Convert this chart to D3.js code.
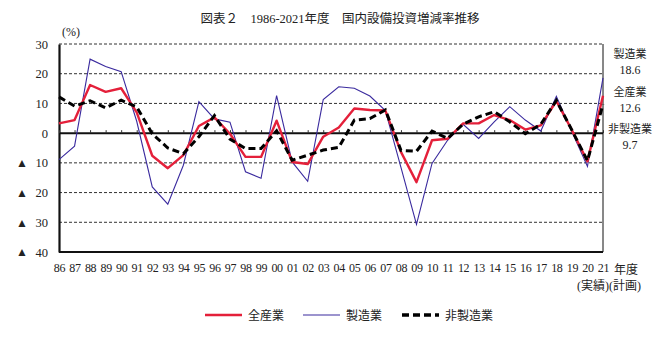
<!DOCTYPE html>
<html>
<head>
<meta charset="utf-8">
<script src="https://cdn.jsdelivr.net/npm/d3@7"></script>
<style>
  html, body { margin: 0; padding: 0; background: #fff; }
  svg text { font-family: "Liberation Serif", "Noto Sans CJK JP", serif; fill: #222; }
</style>
</head>
<body>
<svg id="chart" width="659" height="340"></svg>
<script>
// Fiscal years (two-digit labels)
const years = ["86","87","88","89","90","91","92","93","94","95","96","97","98","99",
  "00","01","02","03","04","05","06","07","08","09","10","11","12","13","14","15",
  "16","17","18","19","20","21"];

// Year-on-year change in capital investment (%)
const allIndustries = [3.3, 4.4, 16.2, 13.9, 15.1, 7.0, -7.6, -11.8, -7.4, 2.4, 5.3, -0.2,
  -8.0, -8.0, 4.2, -9.7, -10.4, -1.2, 1.9, 8.3, 7.8, 7.6, -6.3, -16.5, -2.4, -1.9,
  3.3, 3.3, 6.1, 4.4, 1.2, 2.6, 10.8, 1.0, -9.5, 12.6];
const manufacturing = [-8.9, -4.4, 24.9, 22.4, 20.7, 4.0, -18.1, -23.9, -10.8, 10.6, 4.8, 3.7,
  -13.0, -15.2, 12.6, -9.7, -16.2, 11.3, 15.6, 15.1, 12.5, 7.6, -11.5, -30.7, -10.2, -2.4,
  3.0, -1.8, 3.8, 8.9, 4.4, 0.7, 12.4, 0.5, -11.2, 18.6];
const nonManufacturing = [12.2, 9.1, 10.9, 8.5, 11.1, 8.8, -0.2, -5.0, -6.9, -1.2, 5.9, -2.0,
  -5.2, -5.2, 0.8, -9.1, -7.4, -5.7, -4.8, 4.4, 4.9, 7.8, -5.8, -6.1, 0.7, -1.8,
  3.0, 5.5, 7.2, 3.8, -0.2, 3.0, 11.0, 1.0, -9.3, 9.7];

const yTicks = [30, 20, 10, 0, -10, -20, -30, -40];
const seriesNames = ["全産業", "製造業", "非製造業"];
const lastLabels = ["18.6", "12.6", "9.7"];

const svg = d3.select("#chart");
const plotLeft = 59, plotRight = 603, plotTop = 44, plotBottom = 252;

const x = d3.scalePoint().domain(years).range([plotLeft, plotRight]);
const y = d3.scaleLinear().domain([-40, 30]).range([plotBottom, plotTop]);

// Title
svg.append("text").attr("x", 340).attr("y", 23).attr("text-anchor", "middle")
  .style("font-size", "12.5px").text("図表２　1986-2021年度　国内設備投資増減率推移");

// Unit label
svg.append("text").attr("x", 62).attr("y", 36).style("font-size", "12px").text("(%)");

// Horizontal grid lines (dashed), including the top edge
const grid = svg.append("g");
yTicks.filter(v => v !== 0 && v !== -40).forEach(v => {
  grid.append("line").attr("x1", plotLeft).attr("x2", plotRight)
    .attr("y1", y(v)).attr("y2", y(v))
    .attr("stroke", "#333").attr("stroke-width", 1).attr("stroke-dasharray", "3,2");
});

// Frame: right and bottom edges
svg.append("line").attr("x1", plotRight).attr("x2", plotRight).attr("y1", plotTop).attr("y2", plotBottom)
  .attr("stroke", "#111").attr("stroke-width", 1);
svg.append("line").attr("x1", plotLeft).attr("x2", plotRight).attr("y1", plotBottom).attr("y2", plotBottom)
  .attr("stroke", "#111").attr("stroke-width", 2);

// Y axis with custom labels (negative values marked by ▲)
const yAxis = d3.axisLeft(y).tickValues(yTicks).tickSize(0).tickPadding(11)
  .tickFormat(v => v < 0 ? Math.abs(v) : v);
const yg = svg.append("g").attr("transform", `translate(${plotLeft},0)`).call(yAxis);
yg.select(".domain").attr("stroke", "#111").attr("stroke-width", 2.2);
yg.selectAll("text").style("font-size", "12.5px")
  .style("font-family", "'Liberation Serif', serif").attr("fill", "#222");
yTicks.filter(v => v < 0).forEach(v => {
  yg.append("text").attr("x", -37).attr("y", y(v)).attr("dy", "0.36em")
    .attr("text-anchor", "middle").style("font-size", "12px").text("▲");
});

// Zero line with small tick marks
svg.append("line").attr("x1", plotLeft).attr("x2", plotRight).attr("y1", y(0)).attr("y2", y(0))
  .attr("stroke", "#111").attr("stroke-width", 2);
const xt = svg.append("g").attr("transform", `translate(0,${y(0)})`)
  .call(d3.axisTop(x).tickSize(3).tickFormat(""));
xt.select(".domain").remove();
xt.selectAll("line").attr("stroke", "#333");

// X tick labels
const xg = svg.append("g").attr("transform", `translate(0,${plotBottom})`)
  .call(d3.axisBottom(x).tickSize(0).tickPadding(11));
xg.select(".domain").remove();
xg.selectAll("text").style("font-size", "12px")
  .style("font-family", "'Liberation Serif', serif").attr("fill", "#222")
  .attr("letter-spacing", "-0.3px");
svg.append("text").attr("x", 614).attr("y", 274).style("font-size", "12px").text("年度");
svg.append("text").attr("x", 641).attr("y", 290).attr("text-anchor", "end")
  .style("font-size", "12px").text("(実績)(計画)");

// Series lines
const line = d3.line().x((d, i) => x(years[i])).y(d => y(d));
const series = [
  { name: seriesNames[0], values: allIndustries, color: "#e4203a", width: 2.4, dash: null },
  { name: seriesNames[1], values: manufacturing, color: "#3a2a9e", width: 1.1, dash: null },
  { name: seriesNames[2], values: nonManufacturing, color: "#000", width: 3, dash: "7,4" }
];
svg.append("path").datum(series[1].values).attr("d", line).attr("fill", "none")
  .attr("stroke", series[1].color).attr("stroke-width", series[1].width);
svg.append("path").datum(series[0].values).attr("d", line).attr("fill", "none")
  .attr("stroke", series[0].color).attr("stroke-width", series[0].width)
  .attr("stroke-linejoin", "round");
svg.append("path").datum(series[2].values).attr("d", line).attr("fill", "none")
  .attr("stroke", series[2].color).attr("stroke-width", series[2].width)
  .attr("stroke-dasharray", series[2].dash);

// Latest plan values on the right
const notes = [
  { name: seriesNames[1], value: lastLabels[0], y: 58 },
  { name: seriesNames[0], value: lastLabels[1], y: 96 },
  { name: seriesNames[2], value: lastLabels[2], y: 133 }
];
notes.forEach(n => {
  svg.append("text").attr("x", 630).attr("y", n.y).attr("text-anchor", "middle")
    .style("font-size", "11px").text(n.name);
  svg.append("text").attr("x", 630).attr("y", n.y + 16).attr("text-anchor", "middle")
    .style("font-size", "12px").text(n.value);
});

// Legend
const legend = svg.append("g");
const legendX = [205, 303, 402];
series.forEach((s, i) => {
  legend.append("line").attr("x1", legendX[i]).attr("x2", legendX[i] + 37)
    .attr("y1", 315).attr("y2", 315).attr("stroke", s.color)
    .attr("stroke-width", s.width + (i === 1 ? 0 : 0.3))
    .attr("stroke-dasharray", s.dash);
  legend.append("text").attr("x", legendX[i] + 43).attr("y", 319.5)
    .style("font-size", "12px").text(s.name);
});
</script>
</body>
</html>
